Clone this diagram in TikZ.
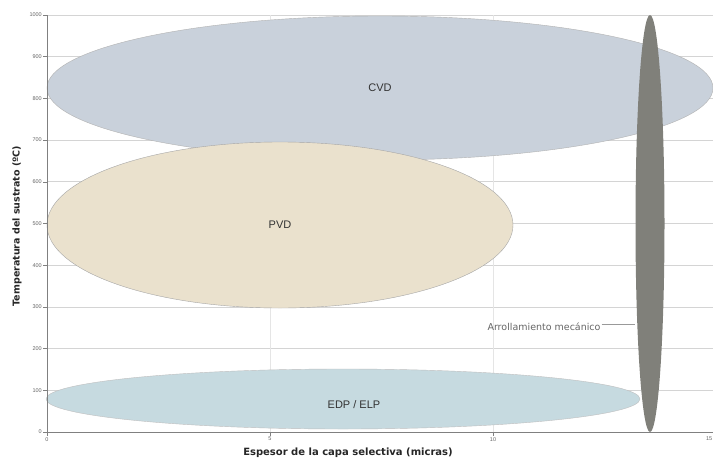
\documentclass[tikz,border=0pt]{standalone}
\usepackage{fontspec}
\setmainfont{Liberation Sans}
\newfontfamily\dejavu{DejaVu Sans}
\usetikzlibrary{shapes.geometric}
\definecolor{cvdfill}{HTML}{C9D1DB}
\definecolor{pvdfill}{HTML}{EAE1CD}
\definecolor{edpfill}{HTML}{C6DAE0}
\definecolor{rollfill}{HTML}{80807A}
\definecolor{gridgray}{HTML}{D4D4D4}
\tikzset{
  region/.style={ellipse, draw=#1, inner sep=0pt, text=black!80, font=\fontsize{11}{12}\selectfont},
  gridline/.style={gridgray, line width=0.8pt},
  ticklabel/.style={font=\fontsize{5.5}{6}\selectfont, text=black!60, inner sep=1pt},
  axistitle/.style={font=\dejavu\bfseries\fontsize{10}{11}\selectfont, text=black!85}
}
\begin{document}
\begin{tikzpicture}[x=1pt,y=-1pt]
			\useasboundingbox (0,0) rectangle (713,461);
			\fill[white] (0,0) rectangle (713,461);
			% grid
			\foreach \v in {100,200,...,1000}
				\draw[gridline] (47,{432-0.417*\v}) -- (716,{432-0.417*\v});
			\foreach \x in {270,493}
				\draw[gridline, gridgray!60] (\x,15) -- (\x,432);
			
			% regions
			\node[region=black!30, fill=cvdfill, minimum width=666pt, minimum height=144pt] (cvd) at (380,88) {CVD};
			\node[region=black!35, fill=pvdfill, minimum width=466pt, minimum height=166pt] (pvd) at (280,225) {PVD};
			\node[region=black!25, fill=edpfill, minimum width=594pt, minimum height=60pt] (edp) at (343,399) {};
			\node[text=black!80, font=\fontsize{11}{12}\selectfont] (edplabel) at (354,405) {EDP / ELP};
			\node[ellipse, fill=rollfill, inner sep=0pt, minimum width=29pt, minimum height=417pt] (roll) at (650,223.5) {};
			\node[font=\dejavu\fontsize{9.5}{10}\selectfont, text=black!60, inner sep=1pt] (arrlabel) at (544,327) {Arrollamiento mecánico};
			\draw[black!40, line width=0.6pt] ([yshift=3pt]arrlabel.east) -- ([yshift=3pt]arrlabel.east -| roll.west);
			
			% axes
			\draw[black!50, line width=0.8pt] (47,15) -- (47,432) -- (716,432);
			\foreach \v in {0,100,...,1000} {
				\draw[black!50] (43,{432-0.417*\v}) -- (47,{432-0.417*\v});
				\node[ticklabel, anchor=east] (yt\v) at (43,{432-0.417*\v}) {\v};
			}
			\foreach \t/\x in {0/47,5/270,10/493} {
				\draw[black!50] (\x,432) -- (\x,436);
				\node[ticklabel, anchor=north] (xt\t) at (\x,436) {\t};
			}
			\node[ticklabel, anchor=north east, inner sep=0.5pt] (xt15) at (713,436) {15};
			\node[axistitle] (xtitle) at (348,453) {Espesor de la capa selectiva (micras)};
			\node[axistitle, rotate=90, font=\dejavu\bfseries\fontsize{9.5}{10}\selectfont] (ytitle) at (17,226) {Temperatura del sustrato (ºC)};
\end{tikzpicture}
\end{document}
